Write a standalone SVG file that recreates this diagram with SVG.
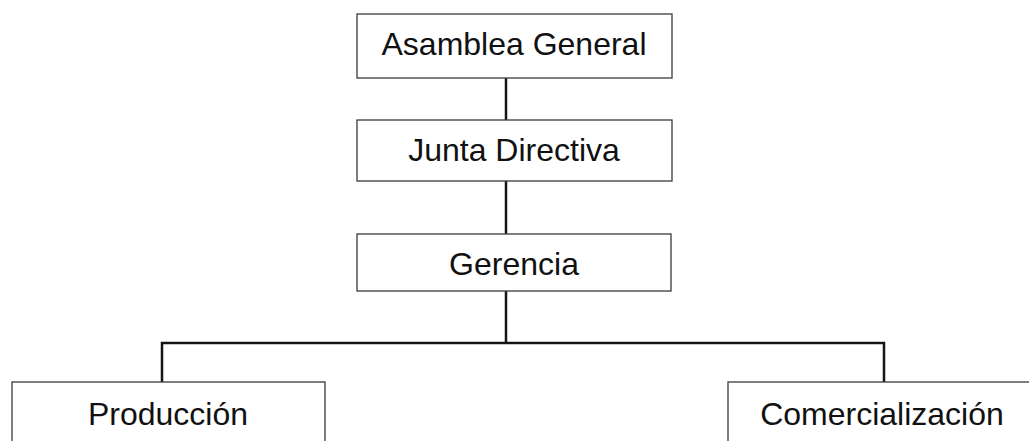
<svg xmlns="http://www.w3.org/2000/svg" width="1029" height="441" viewBox="0 0 1029 441">
<style>
.box{fill:#fff;stroke:#3a3a3a;stroke-width:1.3}
.lbl{font-family:"Liberation Sans",Arial,sans-serif;font-size:32px;fill:#111;text-anchor:middle}
.conn{fill:none;stroke:#151515;stroke-width:2.5}
</style>
<rect width="1029" height="441" fill="#fff"/>
<g id="connectors">
<line class="conn" x1="506" y1="78" x2="506" y2="120"/>
<line class="conn" x1="506" y1="181" x2="506" y2="234"/>
<line class="conn" x1="506" y1="291" x2="506" y2="343"/>
<polyline class="conn" points="162,382 162,343 884,343 884,382"/>
</g>
<g id="asamblea">
<rect class="box" x="357" y="14" width="315" height="64"/>
<text class="lbl" x="514" y="55">Asamblea General</text>
</g>
<g id="junta">
<rect class="box" x="357" y="120" width="315" height="61"/>
<text class="lbl" x="514" y="161">Junta Directiva</text>
</g>
<g id="gerencia">
<rect class="box" x="357" y="234" width="314" height="57"/>
<text class="lbl" x="514" y="275">Gerencia</text>
</g>
<g id="produccion">
<rect class="box" x="12" y="382" width="313" height="70"/>
<text class="lbl" x="168" y="425">Producción</text>
</g>
<g id="comercializacion">
<rect class="box" x="728" y="382" width="320" height="70"/>
<text class="lbl" x="882" y="425">Comercialización</text>
</g>
</svg>
